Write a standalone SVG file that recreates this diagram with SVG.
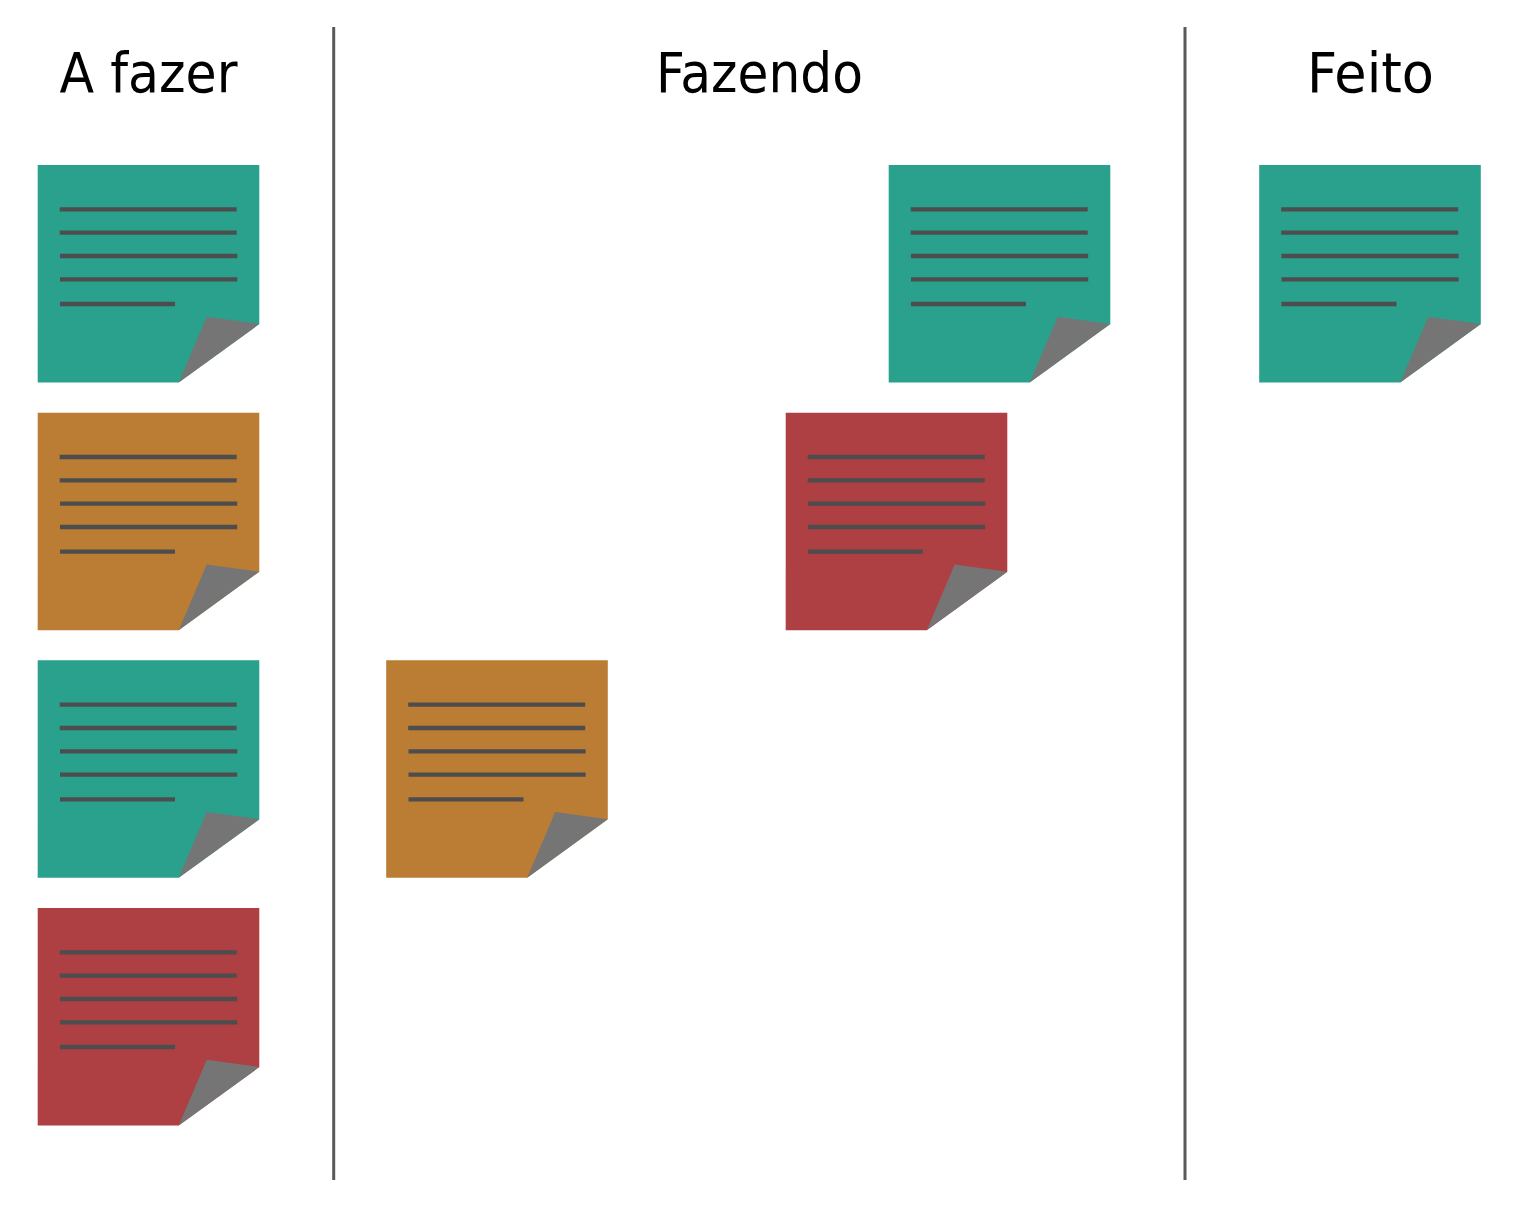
<svg xmlns="http://www.w3.org/2000/svg" xmlns:xlink="http://www.w3.org/1999/xlink" width="1520" height="1216" viewBox="0 0 1520 1216">
<style>
.t{font-family:"DejaVu Sans",sans-serif;font-size:55px;fill:#000;text-anchor:middle}
.d{stroke:#595959;stroke-width:3;fill:none}
.l{stroke:#4d4d4d;stroke-width:4.300;fill:none}
.g{fill:#2aa18d}.o{fill:#ba7d33}.r{fill:#ae3f42}
.c{fill:#757575}
</style>
<defs>
<g id="ink">
<path class="l" d="M22 44.300H199M22 67.700H199M22.300 91H199.500M22.300 114.300H199.500M22.300 139H137.300"/>
<path class="c" d="M141 217.500L169 151.700L221.600 159L141 217.500Z"/>
</g>
</defs>
<rect width="1520" height="1216" fill="#fff"/>
<g id="dividers"><path class="d" d="M333.700 27V1180M1185 27V1180"/></g>
<text class="t" x="148.500" y="92" textLength="178" lengthAdjust="spacingAndGlyphs">A fazer</text>
<text class="t" x="759.500" y="92" textLength="207" lengthAdjust="spacingAndGlyphs">Fazendo</text>
<text class="t" x="1370.500" y="92" textLength="127" lengthAdjust="spacingAndGlyphs">Feito</text>
<g id="n1" transform="translate(37.700 165)"><path class="g" d="M0 0H221.600V159L141 217.500H0Z"/><use href="#ink"/></g>
<g id="n2" transform="translate(37.700 412.700)"><path class="o" d="M0 0H221.600V159L141 217.500H0Z"/><use href="#ink"/></g>
<g id="n3" transform="translate(37.700 660.300)"><path class="g" d="M0 0H221.600V159L141 217.500H0Z"/><use href="#ink"/></g>
<g id="n4" transform="translate(37.700 908)"><path class="r" d="M0 0H221.600V159L141 217.500H0Z"/><use href="#ink"/></g>
<g id="n5" transform="translate(888.700 165)"><path class="g" d="M0 0H221.600V159L141 217.500H0Z"/><use href="#ink"/></g>
<g id="n6" transform="translate(785.700 412.700)"><path class="r" d="M0 0H221.600V159L141 217.500H0Z"/><use href="#ink"/></g>
<g id="n7" transform="translate(386.200 660.300)"><path class="o" d="M0 0H221.600V159L141 217.500H0Z"/><use href="#ink"/></g>
<g id="n8" transform="translate(1259.200 165)"><path class="g" d="M0 0H221.600V159L141 217.500H0Z"/><use href="#ink"/></g>
</svg>
